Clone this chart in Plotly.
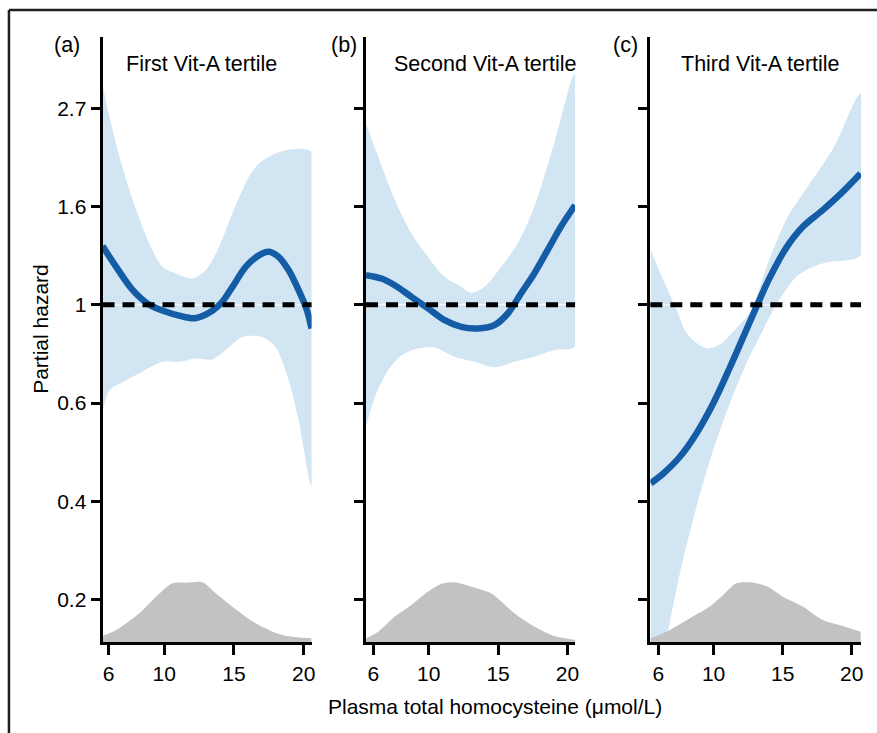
import plotly.graph_objects as go

# ---- data (y in log partial hazard units; axis labels show exp) ----
tick_vals = [-1.5, -1.0, -0.5, 0.0, 0.5, 1.0]
tick_text = ["0.2", "0.4", "0.6", "1", "1.6", "2.7"]
x_ticks = [6, 10, 15, 20]
panel_titles = ["First Vit-A tertile", "Second Vit-A tertile", "Third Vit-A tertile"]
panel_tags = ["(a)", "(b)", "(c)"]

# Panel (a)
a_fit_x = [5.57, 6.55, 7.74, 8.93, 10.12, 11.07, 12.2, 13.45, 14.16, 14.88, 15.84, 16.79, 17.5, 18.21, 18.93, 19.64, 20.24, 20.57]
a_fit_y = [0.30, 0.193, 0.075, 0.0, -0.035, -0.055, -0.068, -0.03, 0.015, 0.09, 0.193, 0.252, 0.27, 0.244, 0.176, 0.075, -0.028, -0.12]
a_up_x = [5.55, 6.07, 6.79, 7.74, 8.93, 9.88, 10.83, 12.02, 12.98, 13.93, 14.88, 16.07, 16.79, 17.98, 19.17, 20.57]
a_up_y = [1.126, 0.956, 0.753, 0.533, 0.312, 0.193, 0.16, 0.134, 0.177, 0.295, 0.465, 0.651, 0.719, 0.77, 0.792, 0.778]
a_lo_x = [5.55, 6.07, 7.26, 8.21, 9.88, 11.07, 12.26, 13.45, 14.41, 15.6, 17.02, 17.98, 18.93, 19.64, 20.57]
a_lo_y = [-0.552, -0.434, -0.383, -0.349, -0.29, -0.29, -0.273, -0.278, -0.23, -0.163, -0.163, -0.214, -0.383, -0.586, -0.926]
a_den_x = [5.55, 6.55, 8.21, 9.41, 10.59, 11.55, 12.74, 13.69, 14.88, 16.55, 18.45, 20.57]
a_den_h = [0.032, 0.063, 0.148, 0.232, 0.300, 0.303, 0.305, 0.249, 0.181, 0.097, 0.037, 0.020]

# Panel (b)
b_fit_x = [5.48, 6.59, 7.55, 8.75, 9.95, 11.15, 12.35, 13.54, 14.74, 15.7, 16.65, 17.61, 18.57, 19.52, 20.55]
b_fit_y = [0.151, 0.134, 0.10, 0.041, -0.018, -0.078, -0.112, -0.12, -0.103, -0.044, 0.058, 0.16, 0.278, 0.397, 0.507]
b_up_x = [5.48, 6.36, 7.56, 8.75, 9.95, 11.15, 12.35, 13.06, 14.02, 15.22, 16.41, 17.61, 19.04, 20.55]
b_up_y = [0.923, 0.753, 0.533, 0.363, 0.244, 0.142, 0.092, 0.061, 0.092, 0.193, 0.312, 0.498, 0.821, 1.177]
b_lo_x = [5.48, 6.13, 7.08, 8.04, 9.23, 10.43, 11.86, 13.3, 14.74, 16.17, 17.61, 19.04, 20.55]
b_lo_y = [-0.62, -0.468, -0.332, -0.256, -0.222, -0.217, -0.264, -0.29, -0.318, -0.29, -0.264, -0.23, -0.21]
b_den_x = [5.48, 6.36, 7.56, 8.75, 9.95, 10.9, 11.86, 13.06, 14.49, 16.17, 17.61, 19.04, 20.55]
b_den_h = [0.020, 0.054, 0.131, 0.190, 0.258, 0.297, 0.305, 0.283, 0.249, 0.148, 0.080, 0.032, 0.012]

# Panel (c)
c_fit_x = [5.45, 6.36, 7.56, 8.76, 9.97, 11.17, 12.37, 13.09, 14.05, 15.26, 16.46, 17.9, 19.35, 20.65]
c_fit_y = [-0.908, -0.858, -0.773, -0.654, -0.502, -0.32, -0.128, -0.012, 0.136, 0.29, 0.397, 0.482, 0.575, 0.668]
c_up_x = [5.45, 6.36, 7.44, 7.92, 8.64, 9.6, 10.56, 11.52, 12.73, 13.93, 15.37, 16.81, 18.73, 20.65]
c_up_y = [0.278, 0.126, -0.044, -0.129, -0.188, -0.222, -0.196, -0.129, -0.027, 0.211, 0.448, 0.6, 0.804, 1.075]
c_lo_x = [5.45, 6.72, 7.56, 8.76, 9.97, 11.17, 12.37, 13.57, 14.53, 15.97, 17.17, 18.37, 20.65]
c_lo_y = [-2.1, -1.655, -1.366, -1.027, -0.739, -0.502, -0.298, -0.129, 0.0, 0.142, 0.193, 0.219, 0.253]
c_den_x = [5.45, 6.84, 8.28, 9.72, 10.69, 11.65, 12.61, 13.81, 15.02, 16.46, 17.91, 19.35, 20.65]
c_den_h = [0.020, 0.063, 0.122, 0.182, 0.241, 0.300, 0.305, 0.286, 0.232, 0.182, 0.113, 0.083, 0.054]

panels = [
    (a_fit_x, a_fit_y, a_up_x, a_up_y, a_lo_x, a_lo_y, a_den_x, a_den_h),
    (b_fit_x, b_fit_y, b_up_x, b_up_y, b_lo_x, b_lo_y, b_den_x, b_den_h),
    (c_fit_x, c_fit_y, c_up_x, c_up_y, c_lo_x, c_lo_y, c_den_x, c_den_h),
]

# ---- layout constants ----
W, H = 877, 733
Y_MIN, Y_MAX = -1.717, 1.363
x_domains_px = [(103, 313), (367.7, 577.7), (653.3, 865)]
x_ranges = [(5.57, 20.57), (5.48, 20.55), (5.42, 20.68)]
y_dom = [1 - 642.3 / H, 1 - 37 / H]
title_cx = [202.5, 487.5, 764]
tag_cx = [67, 346, 628]

BAND = "#d2e5f3"
LINE = "#155ca6"
GRAY = "#c2c2c3"
FONT = "Liberation Sans, Arial, Helvetica, sans-serif"
FS = 21

fig = go.Figure()
layout = dict(
    width=W, height=H, autosize=False,
    margin=dict(l=0, r=0, t=0, b=0),
    paper_bgcolor="white", plot_bgcolor="white",
    showlegend=False,
    font=dict(family=FONT, size=FS, color="black"),
)
shapes = []
annotations = []

for i, (fx, fy, ux, uy, lx, ly, dx, dh) in enumerate(panels):
    n = i + 1
    xa = "x" if n == 1 else f"x{n}"
    ya = "y" if n == 1 else f"y{n}"
    # confidence band
    fig.add_trace(go.Scatter(
        x=list(ux) + list(reversed(lx)), y=list(uy) + list(reversed(ly)),
        fill="toself", fillcolor=BAND, line=dict(width=0, color=BAND, shape="spline", smoothing=0.8),
        mode="lines", xaxis=xa, yaxis=ya, hoverinfo="skip"))
    # density baseline + density
    fig.add_trace(go.Scatter(
        x=dx, y=[Y_MIN] * len(dx), mode="lines", line=dict(width=0),
        xaxis=xa, yaxis=ya, hoverinfo="skip"))
    fig.add_trace(go.Scatter(
        x=dx, y=[Y_MIN + h for h in dh], mode="lines", fill="tonexty", fillcolor=GRAY,
        line=dict(width=0, color=GRAY, shape="spline", smoothing=0.8),
        xaxis=xa, yaxis=ya, hoverinfo="skip"))
    # thin white hairline along hazard = 1 (visible in the dash gaps)
    fig.add_trace(go.Scatter(
        x=list(x_ranges[i]), y=[0, 0], mode="lines", line=dict(color="white", width=1),
        xaxis=xa, yaxis=ya, hoverinfo="skip"))
    # fitted curve
    fig.add_trace(go.Scatter(
        x=fx, y=fy, mode="lines", line=dict(color=LINE, width=6.5, shape="spline", smoothing=0.9),
        xaxis=xa, yaxis=ya))

    x0, x1 = x_domains_px[i]
    layout[f"xaxis{'' if n == 1 else n}"] = dict(
        domain=[x0 / W, x1 / W], range=list(x_ranges[i]), anchor=ya,
        showgrid=False, zeroline=False, showline=True, linecolor="black", linewidth=3,
        ticks="outside", ticklen=10, tickwidth=3, tickcolor="black",
        tickvals=x_ticks, ticktext=[str(v) for v in x_ticks],
        tickfont=dict(family=FONT, size=FS, color="black"))
    layout[f"yaxis{'' if n == 1 else n}"] = dict(
        domain=y_dom, range=[Y_MIN, Y_MAX], anchor=xa,
        showgrid=False, zeroline=False, showline=True, linecolor="black", linewidth=3,
        ticks="outside", ticklen=9, tickwidth=3, tickcolor="black",
        tickvals=tick_vals, ticktext=tick_text, showticklabels=(n == 1),
        tickfont=dict(family=FONT, size=FS, color="black"))
    # reference line at hazard 1
    shapes.append(dict(type="line", xref=f"{xa} domain", yref=ya, x0=0, x1=1, y0=0, y1=0,
                       line=dict(color="black", width=5, dash="12px,8px"), layer="above"))
    annotations.append(dict(text=panel_titles[i], x=title_cx[i] / W, y=1 - 64 / H,
                            xref="paper", yref="paper", showarrow=False,
                            xanchor="center", yanchor="middle",
                            font=dict(family=FONT, size=21.5, color="black")))
    annotations.append(dict(text=panel_tags[i], x=tag_cx[i] / W, y=1 - 45 / H,
                            xref="paper", yref="paper", showarrow=False,
                            xanchor="center", yanchor="middle",
                            font=dict(family=FONT, size=21.5, color="black")))

annotations.append(dict(text="Partial hazard", x=40 / W, y=1 - 329 / H, xref="paper", yref="paper",
                        showarrow=False, textangle=-90, xanchor="center", yanchor="middle",
                        font=dict(family=FONT, size=FS, color="black")))
annotations.append(dict(text="Plasma total homocysteine (μmol/L)", x=497 / W, y=1 - 706 / H,
                        xref="paper", yref="paper", showarrow=False, xanchor="center", yanchor="middle",
                        font=dict(family=FONT, size=FS, color="black")))

# outer frame (left and top edges)
shapes.append(dict(type="line", xref="paper", yref="paper", x0=9 / W, x1=9 / W, y0=-0.05, y1=1 - 10 / H,
                   line=dict(color="#231f20", width=2.5)))
shapes.append(dict(type="line", xref="paper", yref="paper", x0=9 / W, x1=1.05, y0=1 - 10 / H, y1=1 - 10 / H,
                   line=dict(color="#231f20", width=2.5)))

layout["shapes"] = shapes
layout["annotations"] = annotations
fig.update_layout(**layout)
fig.write_html("out.html", config={"displayModeBar": False},
               post_script="document.body.style.margin='0';document.body.style.overflow='hidden';")
